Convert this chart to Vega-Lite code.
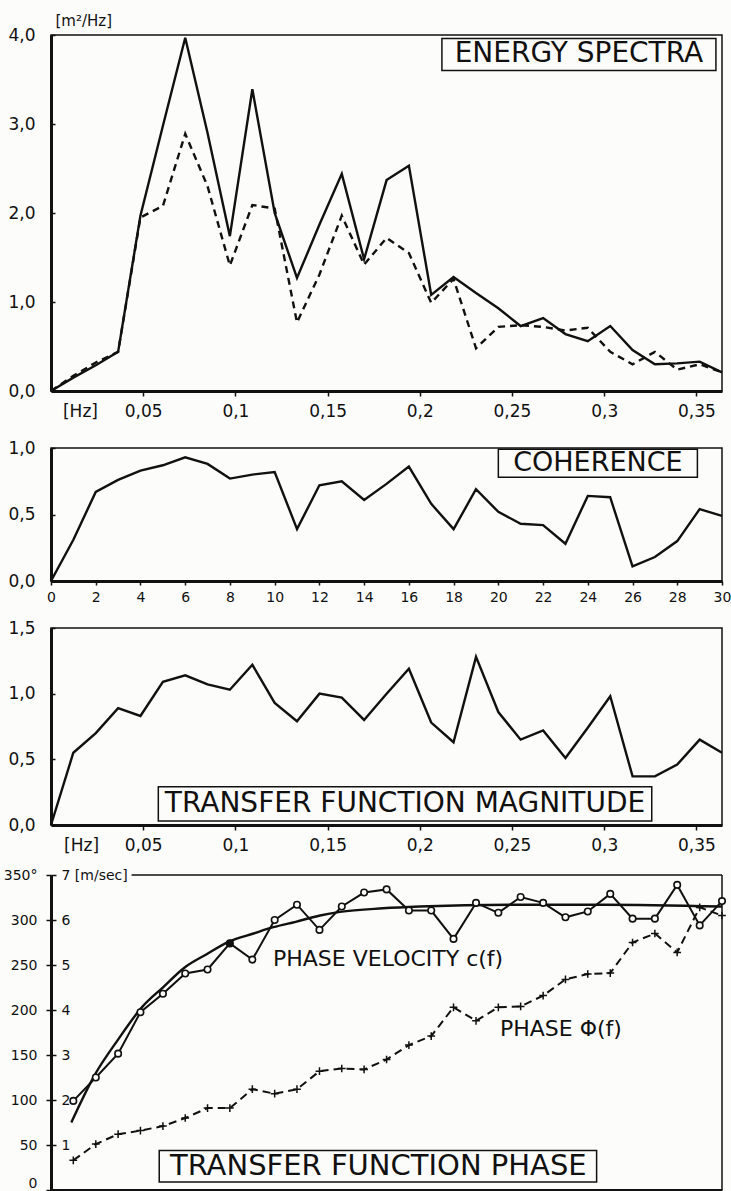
{
  "$schema": "https://vega.github.io/schema/vega-lite/v6.json",
  "background": "#fcfcfa",
  "padding": {"left": 3, "top": 12, "right": 0, "bottom": 0},
  "config": {
    "font": "DejaVu Sans",
    "view": {"stroke": "#111111", "strokeWidth": 1.5},
    "axis": {"domainColor": "#111111", "domainWidth": 3, "tickColor": "#111111", "tickWidth": 1.5, "labelColor": "#111111", "labelFont": "DejaVu Sans", "titleColor": "#111111", "titleFont": "DejaVu Sans", "grid": false, "labelFlush": false, "labelOverlap": false},
    "text": {"font": "DejaVu Sans", "color": "#111111"}
  },
  "datasets": {
    "spec": [
      {"i": 0, "f": 0, "es": 0, "ed": 0, "coh": 0, "tf": 0},
      {"i": 1, "f": 0.0121, "es": 0.15, "ed": 0.17, "coh": 0.31, "tf": 0.55},
      {"i": 2, "f": 0.0243, "es": 0.29, "ed": 0.32, "coh": 0.67, "tf": 0.70},
      {"i": 3, "f": 0.0364, "es": 0.44, "ed": 0.44, "coh": 0.76, "tf": 0.89},
      {"i": 4, "f": 0.0485, "es": 1.97, "ed": 1.95, "coh": 0.83, "tf": 0.83},
      {"i": 5, "f": 0.0607, "es": 2.98, "ed": 2.08, "coh": 0.87, "tf": 1.09},
      {"i": 6, "f": 0.0728, "es": 3.97, "ed": 2.89, "coh": 0.93, "tf": 1.14},
      {"i": 7, "f": 0.0849, "es": 2.9, "ed": 2.3, "coh": 0.88, "tf": 1.07},
      {"i": 8, "f": 0.0970, "es": 1.74, "ed": 1.41, "coh": 0.77, "tf": 1.03},
      {"i": 9, "f": 0.1092, "es": 3.39, "ed": 2.09, "coh": 0.80, "tf": 1.22},
      {"i": 10, "f": 0.1213, "es": 2.0, "ed": 2.05, "coh": 0.82, "tf": 0.93},
      {"i": 11, "f": 0.1334, "es": 1.27, "ed": 0.77, "coh": 0.39, "tf": 0.79},
      {"i": 12, "f": 0.1456, "es": 1.87, "ed": 1.31, "coh": 0.72, "tf": 1.00},
      {"i": 13, "f": 0.1577, "es": 2.44, "ed": 1.97, "coh": 0.75, "tf": 0.97},
      {"i": 14, "f": 0.1698, "es": 1.48, "ed": 1.42, "coh": 0.61, "tf": 0.80},
      {"i": 15, "f": 0.1820, "es": 2.37, "ed": 1.72, "coh": 0.73, "tf": 1.00},
      {"i": 16, "f": 0.1941, "es": 2.53, "ed": 1.55, "coh": 0.86, "tf": 1.19},
      {"i": 17, "f": 0.2062, "es": 1.08, "ed": 0.99, "coh": 0.58, "tf": 0.78},
      {"i": 18, "f": 0.2183, "es": 1.28, "ed": 1.26, "coh": 0.39, "tf": 0.63},
      {"i": 19, "f": 0.2305, "es": 1.10, "ed": 0.48, "coh": 0.69, "tf": 1.28},
      {"i": 20, "f": 0.2426, "es": 0.93, "ed": 0.72, "coh": 0.52, "tf": 0.86},
      {"i": 21, "f": 0.2547, "es": 0.73, "ed": 0.74, "coh": 0.43, "tf": 0.65},
      {"i": 22, "f": 0.2669, "es": 0.82, "ed": 0.72, "coh": 0.42, "tf": 0.72},
      {"i": 23, "f": 0.2790, "es": 0.64, "ed": 0.68, "coh": 0.28, "tf": 0.51},
      {"i": 24, "f": 0.2911, "es": 0.56, "ed": 0.71, "coh": 0.64, "tf": 0.74},
      {"i": 25, "f": 0.3033, "es": 0.73, "ed": 0.44, "coh": 0.63, "tf": 0.98},
      {"i": 26, "f": 0.3154, "es": 0.46, "ed": 0.30, "coh": 0.11, "tf": 0.37},
      {"i": 27, "f": 0.3275, "es": 0.30, "ed": 0.44, "coh": 0.18, "tf": 0.37},
      {"i": 28, "f": 0.3396, "es": 0.31, "ed": 0.24, "coh": 0.30, "tf": 0.46},
      {"i": 29, "f": 0.3518, "es": 0.33, "ed": 0.30, "coh": 0.54, "tf": 0.65},
      {"i": 30, "f": 0.3639, "es": 0.21, "ed": 0.21, "coh": 0.49, "tf": 0.55}
    ],
    "phase": [
      {"i": 1, "f": 0.0121, "c": 1.98, "phi": 33},
      {"i": 2, "f": 0.0243, "c": 2.50, "phi": 51},
      {"i": 3, "f": 0.0364, "c": 3.03, "phi": 62},
      {"i": 4, "f": 0.0485, "c": 3.95, "phi": 66},
      {"i": 5, "f": 0.0607, "c": 4.36, "phi": 71},
      {"i": 6, "f": 0.0728, "c": 4.81, "phi": 80},
      {"i": 7, "f": 0.0849, "c": 4.90, "phi": 91},
      {"i": 8, "f": 0.0970, "c": 5.48, "phi": 91},
      {"i": 9, "f": 0.1092, "c": 5.12, "phi": 112},
      {"i": 10, "f": 0.1213, "c": 6.00, "phi": 107},
      {"i": 11, "f": 0.1334, "c": 6.34, "phi": 112},
      {"i": 12, "f": 0.1456, "c": 5.78, "phi": 132},
      {"i": 13, "f": 0.1577, "c": 6.30, "phi": 135},
      {"i": 14, "f": 0.1698, "c": 6.61, "phi": 134},
      {"i": 15, "f": 0.1820, "c": 6.68, "phi": 145},
      {"i": 16, "f": 0.1941, "c": 6.21, "phi": 161},
      {"i": 17, "f": 0.2062, "c": 6.21, "phi": 171},
      {"i": 18, "f": 0.2183, "c": 5.58, "phi": 203},
      {"i": 19, "f": 0.2305, "c": 6.38, "phi": 188},
      {"i": 20, "f": 0.2426, "c": 6.16, "phi": 203},
      {"i": 21, "f": 0.2547, "c": 6.51, "phi": 204},
      {"i": 22, "f": 0.2669, "c": 6.38, "phi": 216},
      {"i": 23, "f": 0.2790, "c": 6.06, "phi": 234},
      {"i": 24, "f": 0.2911, "c": 6.19, "phi": 240},
      {"i": 25, "f": 0.3033, "c": 6.58, "phi": 241},
      {"i": 26, "f": 0.3154, "c": 6.03, "phi": 275},
      {"i": 27, "f": 0.3275, "c": 6.03, "phi": 285},
      {"i": 28, "f": 0.3396, "c": 6.78, "phi": 264},
      {"i": 29, "f": 0.3518, "c": 5.88, "phi": 314},
      {"i": 30, "f": 0.3639, "c": 6.42, "phi": 305}
    ],
    "curve": [
      {"f": 0.0110, "c": 1.50},
      {"f": 0.0239, "c": 2.57},
      {"f": 0.0360, "c": 3.32},
      {"f": 0.0495, "c": 4.07},
      {"f": 0.0609, "c": 4.51},
      {"f": 0.0723, "c": 4.94},
      {"f": 0.0844, "c": 5.24},
      {"f": 0.0965, "c": 5.52},
      {"f": 0.1098, "c": 5.70},
      {"f": 0.1206, "c": 5.84},
      {"f": 0.1327, "c": 5.96},
      {"f": 0.1459, "c": 6.10},
      {"f": 0.1567, "c": 6.18},
      {"f": 0.18, "c": 6.26},
      {"f": 0.20, "c": 6.30},
      {"f": 0.25, "c": 6.34},
      {"f": 0.30, "c": 6.34},
      {"f": 0.3639, "c": 6.30}
    ],
    "dot": [{"f": 0.0970, "c": 5.48}]
  },
  "bounds": "flush",
  "spacing": 57,
  "vconcat": [
    {
      "width": 671,
      "height": 356,
      "layer": [
        {
          "data": {"name": "spec"},
          "mark": {"type": "line", "color": "#111111", "strokeWidth": 2.4},
          "encoding": {
            "x": {"field": "f", "type": "quantitative", "scale": {"domain": [0, 0.3639], "nice": false, "zero": false},
              "axis": {"title": null, "values": [0.0157, 0.05, 0.1, 0.15, 0.2, 0.25, 0.3, 0.35], "labelExpr": "datum.value < 0.03 ? '[Hz]' : replace(format(datum.value, '.2~f'), '.', ',')", "tickOpacity": {"condition": {"test": "datum.value < 0.03", "value": 0}, "value": 1}, "tickSize": 5, "labelPadding": 7, "labelFontSize": 17}},
            "y": {"field": "es", "type": "quantitative", "scale": {"domain": [0, 4], "nice": false},
              "axis": {"values": [0, 1, 2, 3, 4], "labelExpr": "replace(format(datum.value, '.1f'), '.', ',')", "tickSize": -4, "labelPadding": 20, "labelFontSize": 17, "title": "[m²/Hz]", "titleAngle": 0, "titleAlign": "left", "titleBaseline": "middle", "titleX": 4, "titleY": -15, "titleFontSize": 15, "titleFontWeight": "normal"}}
          }
        },
        {
          "data": {"name": "spec"},
          "mark": {"type": "line", "color": "#111111", "strokeWidth": 2.4, "strokeDash": [7, 5]},
          "encoding": {
            "x": {"field": "f", "type": "quantitative"},
            "y": {"field": "ed", "type": "quantitative"}
          }
        },
        {
          "data": {"values": [{}]},
          "mark": {"type": "rect", "fillOpacity": 0, "stroke": "#111111", "strokeWidth": 1.5},
          "encoding": {
            "x": {"datum": 0.212, "type": "quantitative"},
            "x2": {"datum": 0.3606},
            "y": {"datum": 3.96, "type": "quantitative"},
            "y2": {"datum": 3.6}
          }
        },
        {
          "data": {"values": [{}]},
          "mark": {"type": "text", "fontSize": 28, "align": "center", "baseline": "middle"},
          "encoding": {
            "x": {"datum": 0.2863, "type": "quantitative"},
            "y": {"datum": 3.79, "type": "quantitative"},
            "text": {"value": "ENERGY SPECTRA"}
          }
        }
      ]
    },
    {
      "bounds": "flush",
      "spacing": 47,
      "vconcat": [
        {
          "width": 671,
          "height": 133,
          "layer": [
            {
              "data": {"name": "spec"},
              "mark": {"type": "line", "color": "#111111", "strokeWidth": 2.4},
              "encoding": {
                "x": {"field": "i", "type": "quantitative", "scale": {"domain": [0, 30], "nice": false},
                  "axis": {"title": null, "values": [0, 2, 4, 6, 8, 10, 12, 14, 16, 18, 20, 22, 24, 26, 28, 30], "tickSize": 4, "labelPadding": 5, "labelFontSize": 14}},
                "y": {"field": "coh", "type": "quantitative", "scale": {"domain": [0, 1], "nice": false},
                  "axis": {"title": null, "values": [0, 0.5, 1], "labelExpr": "replace(format(datum.value, '.1f'), '.', ',')", "tickSize": -4, "labelPadding": 20, "labelFontSize": 17}}
              }
            },
            {
              "data": {"values": [{}]},
              "mark": {"type": "rect", "fillOpacity": 0, "stroke": "#111111", "strokeWidth": 1.5},
              "encoding": {
                "x": {"datum": 20.0, "type": "quantitative"},
                "x2": {"datum": 28.9},
                "y": {"datum": 0.99, "type": "quantitative"},
                "y2": {"datum": 0.78}
              }
            },
            {
              "data": {"values": [{}]},
              "mark": {"type": "text", "fontSize": 27, "align": "center", "baseline": "middle"},
              "encoding": {
                "x": {"datum": 24.45, "type": "quantitative"},
                "y": {"datum": 0.885, "type": "quantitative"},
                "text": {"value": "COHERENCE"}
              }
            }
          ]
        },
        {
          "bounds": "flush",
          "spacing": 50,
          "vconcat": [
            {
              "width": 671,
              "height": 197,
              "layer": [
                {
                  "data": {"name": "spec"},
                  "mark": {"type": "line", "color": "#111111", "strokeWidth": 2.4},
                  "encoding": {
                    "x": {"field": "f", "type": "quantitative", "scale": {"domain": [0, 0.3639], "nice": false, "zero": false},
                      "axis": {"title": null, "values": [0.0163, 0.05, 0.1, 0.15, 0.2, 0.25, 0.3, 0.35], "labelExpr": "datum.value < 0.03 ? '[Hz]' : replace(format(datum.value, '.2~f'), '.', ',')", "tickOpacity": {"condition": {"test": "datum.value < 0.03", "value": 0}, "value": 1}, "tickSize": 5, "labelPadding": 7, "labelFontSize": 17}},
                    "y": {"field": "tf", "type": "quantitative", "scale": {"domain": [0, 1.5], "nice": false},
                      "axis": {"title": null, "values": [0, 0.5, 1, 1.5], "labelExpr": "replace(format(datum.value, '.1f'), '.', ',')", "tickSize": -4, "labelPadding": 20, "labelFontSize": 17}}
                  }
                },
                {
                  "data": {"values": [{}]},
                  "mark": {"type": "rect", "fillOpacity": 0, "stroke": "#111111", "strokeWidth": 1.5},
                  "encoding": {
                    "x": {"datum": 0.0582, "type": "quantitative"},
                    "x2": {"datum": 0.3258},
                    "y": {"datum": 0.292, "type": "quantitative"},
                    "y2": {"datum": 0.031}
                  }
                },
                {
                  "data": {"values": [{}]},
                  "mark": {"type": "text", "fontSize": 28, "align": "center", "baseline": "middle"},
                  "encoding": {
                    "x": {"datum": 0.192, "type": "quantitative"},
                    "y": {"datum": 0.16, "type": "quantitative"},
                    "text": {"value": "TRANSFER FUNCTION MAGNITUDE"}
                  }
                }
              ]
            },
            {
              "width": 671,
              "height": 315,
              "view": {"stroke": null},
              "layer": [
                {
                  "layer": [
                    {
                      "data": {"name": "phase"},
                      "mark": {"type": "line", "color": "#111111", "strokeWidth": 2, "strokeDash": [8, 5]},
                      "encoding": {
                        "x": {"field": "f", "type": "quantitative", "scale": {"domain": [0, 0.3639], "nice": false, "zero": false},
                          "axis": {"title": null, "labels": false, "ticks": false, "domainWidth": 3}},
                        "y": {"field": "phi", "type": "quantitative", "scale": {"domain": [0, 350], "nice": false},
                          "axis": {"title": null, "values": [0, 50, 100, 150, 200, 250, 300, 350], "labelExpr": "datum.value == 350 ? '350°' : datum.label", "labelOffset": {"condition": {"test": "datum.value == 0", "value": -7}, "value": 0}, "tickSize": 5, "labelPadding": 9, "labelFontSize": 14}}
                      }
                    },
                    {
                      "data": {"name": "phase"},
                      "mark": {"type": "point", "shape": "M-1,0L1,0M0,-1L0,1", "filled": false, "stroke": "#111111", "strokeWidth": 1.5, "size": 60, "opacity": 1},
                      "encoding": {
                        "x": {"field": "f", "type": "quantitative"},
                        "y": {"field": "phi", "type": "quantitative"}
                      }
                    },
                    {
                      "data": {"values": [{}]},
                      "mark": {"type": "rule", "color": "#111111", "strokeWidth": 1.5},
                      "encoding": {
                        "x": {"datum": 0.0437, "type": "quantitative"},
                        "x2": {"datum": 0.3639},
                        "y": {"datum": 350, "type": "quantitative"}
                      }
                    },
                    {
                      "data": {"values": [{}]},
                      "mark": {"type": "rule", "color": "#111111", "strokeWidth": 1.5},
                      "encoding": {
                        "x": {"datum": 0.3639, "type": "quantitative"},
                        "y": {"datum": 0, "type": "quantitative"},
                        "y2": {"datum": 350}
                      }
                    },
                    {
                      "data": {"values": [{}]},
                      "mark": {"type": "rect", "fillOpacity": 0, "stroke": "#111111", "strokeWidth": 1.5},
                      "encoding": {
                        "x": {"datum": 0.0587, "type": "quantitative"},
                        "x2": {"datum": 0.2959},
                        "y": {"datum": 44, "type": "quantitative"},
                        "y2": {"datum": 9}
                      }
                    },
                    {
                      "data": {"values": [{}]},
                      "mark": {"type": "text", "fontSize": 29, "align": "center", "baseline": "middle"},
                      "encoding": {
                        "x": {"datum": 0.1775, "type": "quantitative"},
                        "y": {"datum": 26.5, "type": "quantitative"},
                        "text": {"value": "TRANSFER FUNCTION PHASE"}
                      }
                    },
                    {
                      "data": {"values": [{}]},
                      "mark": {"type": "text", "fontSize": 22, "align": "left", "baseline": "middle"},
                      "encoding": {
                        "x": {"datum": 0.1204, "type": "quantitative"},
                        "y": {"datum": 257, "type": "quantitative"},
                        "text": {"value": "PHASE VELOCITY c(f)"}
                      }
                    },
                    {
                      "data": {"values": [{}]},
                      "mark": {"type": "text", "fontSize": 22, "align": "left", "baseline": "middle"},
                      "encoding": {
                        "x": {"datum": 0.2435, "type": "quantitative"},
                        "y": {"datum": 179, "type": "quantitative"},
                        "text": {"value": "PHASE Φ(f)"}
                      }
                    }
                  ]
                },
                {
                  "layer": [
                    {
                      "data": {"name": "curve"},
                      "mark": {"type": "line", "color": "#111111", "strokeWidth": 2.4, "interpolate": "monotone"},
                      "encoding": {
                        "x": {"field": "f", "type": "quantitative"},
                        "y": {"field": "c", "type": "quantitative", "scale": {"domain": [0, 7], "nice": false},
                          "axis": {"orient": "left", "title": null, "domain": false, "values": [0, 1, 2, 3, 4, 5, 6, 7], "labelExpr": "datum.value == 7 ? '7 [m/sec]' : datum.value == 0 ? '' : datum.label", "labelAlign": "left", "tickSize": -5, "labelPadding": -5, "labelFontSize": 14}}
                      }
                    },
                    {
                      "data": {"name": "phase"},
                      "mark": {"type": "line", "color": "#111111", "strokeWidth": 2},
                      "encoding": {
                        "x": {"field": "f", "type": "quantitative"},
                        "y": {"field": "c", "type": "quantitative"}
                      }
                    },
                    {
                      "data": {"name": "phase"},
                      "mark": {"type": "point", "shape": "circle", "filled": true, "fill": "#fcfcfa", "stroke": "#111111", "strokeWidth": 1.6, "size": 42, "opacity": 1},
                      "encoding": {
                        "x": {"field": "f", "type": "quantitative"},
                        "y": {"field": "c", "type": "quantitative"}
                      }
                    },
                    {
                      "data": {"name": "dot"},
                      "mark": {"type": "point", "shape": "circle", "filled": true, "color": "#111111", "size": 50, "opacity": 1},
                      "encoding": {
                        "x": {"field": "f", "type": "quantitative"},
                        "y": {"field": "c", "type": "quantitative"}
                      }
                    }
                  ]
                }
              ],
              "resolve": {"scale": {"y": "independent"}, "axis": {"y": "independent"}}
            }
          ]
        }
      ]
    }
  ]
}
